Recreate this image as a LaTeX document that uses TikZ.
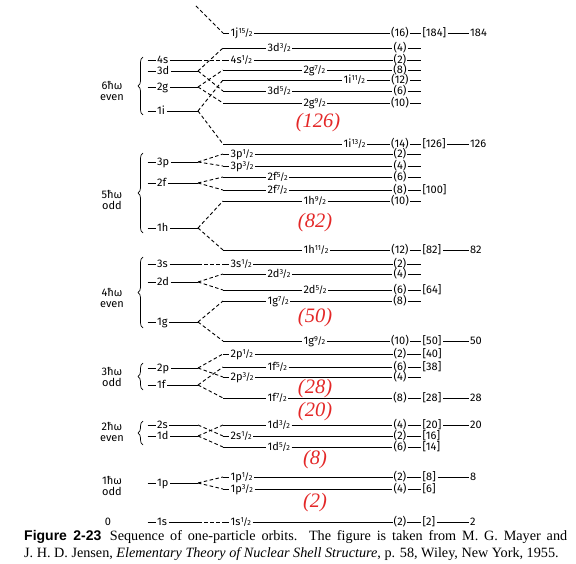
\documentclass[tikz,border=0pt]{standalone}
\usepackage{fontspec}
\setmainfont{Liberation Serif}
\newfontfamily\lblfont{Fira Sans}
\newfontfamily\capsans{Liberation Sans}
\usepackage{xcolor}
\definecolor{magicred}{RGB}{228,40,40}
\usetikzlibrary{decorations.pathreplacing}
\newcommand\jfr[1]{\raisebox{.5ex}{\fontsize{7.3}{8}\selectfont#1}\kern-.06em{\fontsize{9.5}{10}\selectfont/}\kern-.06em{\fontsize{7.3}{8}\selectfont2}}
\newcommand\dd{\rule[3.3pt]{8pt}{0.9pt}\kern1.5pt}

\begin{document}
\begin{tikzpicture}[x=1pt,y=-1pt,font=\lblfont\fontsize{11}{11}\selectfont,
  orb/.style={anchor=west,inner sep=1.5pt,text height=8pt,text depth=0.5pt},
  cnt/.style={inner sep=1pt,text height=8pt,text depth=0.5pt},
  lvl/.style={line width=0.9pt},
  split/.style={line width=0.9pt,dash pattern=on 3.5pt off 2.5pt},
  osc/.style={align=center,inner sep=0pt},
  brc/.style={line width=0.7pt,decorate,decoration={brace,amplitude=5pt}},
  magic/.style={text=magicred,font=\rmfamily\itshape\fontsize{20.5}{21}\selectfont}]
\path[use as bounding box,fill=white] (0,0) rectangle (576,564);

\foreach \n/\y in {4s/60,3d/71,2g/87,1i/111,3p/162,2f/183,1h/228,3s/264,2d/282,1g/322,2p/368,1f/385,2s/425,1d/436,1p/483,1s/522}{
  \node[orb] (L\n) at (146,\y) {\dd\n};
  \coordinate (S\n) at (198,\y);
  \draw[lvl] (L\n) -- (S\n);
}

\foreach \n/\y/\x/\t/\c in {1j15/33/229/{1j\jfr{15}}/16, 3d3/48/266/{3d\jfr3}/4, 4s1/60/229/{4s\jfr1}/2,
  2g7/70/302/{2g\jfr7}/8, 1i11/80/342/{1i\jfr{11}}/12, 3d5/91/266/{3d\jfr5}/6, 2g9/103/302/{2g\jfr9}/10,
  1i13/144/342/{1i\jfr{13}}/14, 3p1/154/229/{3p\jfr1}/2, 3p3/166/229/{3p\jfr3}/4, 2f5/177/266/{2f\jfr5}/6,
  2f7/190/266/{2f\jfr7}/8, 1h9/201/302/{1h\jfr9}/10, 1h11/250/302/{1h\jfr{11}}/12,
  3s1/264/229/{3s\jfr1}/2, 2d3/274/266/{2d\jfr3}/4, 2d5/290/302/{2d\jfr5}/6, 1g7/301/266/{1g\jfr7}/8,
  1g9/341/302/{1g\jfr9}/10, 2p1/354/229/{2p\jfr1}/2, 1f5/367/266/{1f\jfr5}/6, 2p3/377/229/{2p\jfr3}/4,
  1f7/398/266/{1f\jfr7}/8, 1d3/425/266/{1d\jfr3}/4, 2s1/436/229/{2s\jfr1}/2, 1d5/447/266/{1d\jfr5}/6,
  1p1/477/229/{1p\jfr1}/2, 1p3/489/229/{1p\jfr3}/4, 1s1/522/229/{1s\jfr1}/2}{
  \coordinate (R\n) at (223,\y);
  \node[orb] (O\n) at (\x,\y) {\t};
  \node[cnt] (N\n) at (400,\y) {(\c)};
  \coordinate (E\n) at (421,\y);
  \draw[lvl] (R\n) -- (O\n) (O\n) -- (N\n) (N\n) -- (E\n);
}

\coordinate (S7) at (196,6);
\draw[split] (S7) -- (R1j15);
\foreach \a/\b in {4s/4s1,3d/3d3,3d/3d5,2g/2g7,2g/2g9,1i/1i11,1i/1i13,3p/3p1,3p/3p3,2f/2f5,2f/2f7,
  1h/1h9,1h/1h11,3s/3s1,2d/2d3,2d/2d5,1g/1g7,1g/1g9,2p/2p1,2p/2p3,1f/1f5,1f/1f7,
  2s/2s1,1d/1d3,1d/1d5,1p/1p1,1p/1p3,1s/1s1}
  \draw[split] (S\a) -- (R\b);

\foreach \n/\b in {1j15/184,1i13/126,2f7/100,1h11/82,2d5/64,1g9/50,2p1/40,1f5/38,1f7/28,
  1d3/20,2s1/16,1d5/14,1p1/8,1p3/6,1s1/2}
  \node[orb] (B\n) at (E\n) {[\b]};
\foreach \n/\b in {1j15/184,1i13/126,1h11/82,1g9/50,1f7/28,1d3/20,1p1/8,1s1/2}{
  \path (E\n) ++(47.5,0) node[orb] (M\n) {\b};
  \draw[lvl] (B\n) -- (M\n);
}

\node[osc] (H6) at (112,91)  {6ħω\\even};
\node[osc] (H5) at (112,200) {5ħω\\odd};
\node[osc] (H4) at (112,298) {4ħω\\even};
\node[osc] (H3) at (112,377) {3ħω\\odd};
\node[osc] (H2) at (112,432) {2ħω\\even};
\node[osc] (H1) at (112,486) {1ħω\\odd};
\node[osc] (H0) at (108,522) {0};
\draw[brc] (143,115) -- (143,57);
\draw[brc] (143,233) -- (143,153);
\draw[brc] (143,328) -- (143,257);
\draw[brc] (143,390) -- (143,363);
\draw[brc] (143,445) -- (143,421);

\node[magic] (m126) at (318,123) {(126)};
\node[magic] (m82)  at (315,223) {(82)};
\node[magic] (m50)  at (315,318) {(50)};
\node[magic] (m28)  at (315,389) {(28)};
\node[magic] (m20)  at (315,412) {(20)};
\node[magic] (m8)   at (315,460) {(8)};
\node[magic] (m2)   at (315,503) {(2)};

\node[anchor=north west,inner sep=0pt,text width=543pt,align=justify,
  font=\rmfamily\fontsize{14.2}{17}\selectfont] (cap) at (24,530)
  {{\capsans\bfseries\fontsize{14}{17}\selectfont Figure 2-23}\hspace{0.6em}Sequence of one-particle orbits. The figure is taken from M. G. Mayer and\linebreak
   J. H. D. Jensen, \textit{Elementary Theory of Nuclear Shell Structure}, p. 58, Wiley, New York, 1955.};
\end{tikzpicture}
\end{document}
